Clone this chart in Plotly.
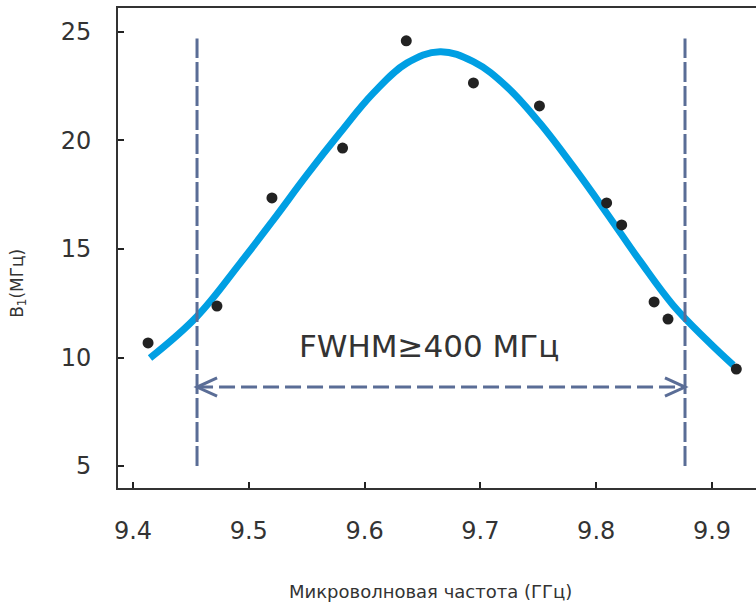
import plotly.graph_objects as go

# measured data points
freq_pts = [9.413, 9.4725, 9.520, 9.581, 9.636, 9.694, 9.751, 9.809, 9.822, 9.850, 9.862, 9.921]
b1_pts = [10.67, 12.37, 17.35, 19.65, 24.59, 22.65, 21.59, 17.12, 16.11, 12.56, 11.77, 9.47]

# fitted curve
freq_fit = [9.4147, 9.455, 9.4924, 9.5212, 9.550, 9.5788, 9.6075, 9.6364, 9.6651, 9.6939,
            9.7227, 9.7515, 9.7803, 9.8091, 9.8378, 9.8666, 9.8954, 9.9184]
b1_fit = [9.98, 11.88, 14.34, 16.34, 18.4, 20.35, 22.18, 23.56, 24.09, 23.63,
          22.48, 20.79, 18.79, 16.65, 14.45, 12.4, 10.81, 9.65]

# FWHM markers
fwhm_left = 9.4553
fwhm_right = 9.8767
marker_bottom = 5.0
marker_top = 24.7
arrow_level = 8.64
fwhm_label = "FWHM≥400 МГц"

x_ticks = [9.4, 9.5, 9.6, 9.7, 9.8, 9.9]
x_tick_text = ["9.4", "9.5", "9.6", "9.7", "9.8", "9.9"]
y_ticks = [5, 10, 15, 20, 25]

FONT = "DejaVu Sans"
DASH_COLOR = "#5a6d96"
TEXT_COLOR = "#333333"

fig = go.Figure()
fig.add_trace(go.Scatter(x=freq_fit, y=b1_fit, mode="lines",
                         line=dict(color="#009fe3", width=7, shape="spline", smoothing=1.1),
                         hoverinfo="skip"))
fig.add_trace(go.Scatter(x=freq_pts, y=b1_pts, mode="markers",
                         marker=dict(color="#222222", size=11)))

shapes = []
for xv in (fwhm_left, fwhm_right):
    shapes.append(dict(type="line", xref="x", yref="y", x0=xv, x1=xv,
                       y0=marker_bottom, y1=marker_top,
                       line=dict(color=DASH_COLOR, width=3, dash="20px,4px")))
shapes.append(dict(type="line", xref="x", yref="y", x0=fwhm_left, x1=fwhm_right,
                   y0=arrow_level, y1=arrow_level,
                   line=dict(color=DASH_COLOR, width=3, dash="16px,6px")))
# arrow heads (chevrons)
ax_len = 0.0173
ay_len = 0.42
shapes.append(dict(type="path", xref="x", yref="y",
                   path=f"M {fwhm_left + ax_len},{arrow_level + ay_len} L {fwhm_left},{arrow_level} L {fwhm_left + ax_len},{arrow_level - ay_len}",
                   line=dict(color=DASH_COLOR, width=3)))
shapes.append(dict(type="path", xref="x", yref="y",
                   path=f"M {fwhm_right - ax_len},{arrow_level + ay_len} L {fwhm_right},{arrow_level} L {fwhm_right - ax_len},{arrow_level - ay_len}",
                   line=dict(color=DASH_COLOR, width=3)))

annotations = [
    dict(x=(fwhm_left + fwhm_right) / 2 - 0.01, y=10.53, xref="x", yref="y",
         text=fwhm_label, showarrow=False,
         font=dict(family=FONT, size=31, color=TEXT_COLOR)),
    dict(x=-0.157, y=0.427, xref="paper", yref="paper", textangle=-90,
         xanchor="center", yanchor="middle",
         text="B<sub>1</sub>(МГц)", showarrow=False,
         font=dict(family=FONT, size=17, color=TEXT_COLOR)),
    dict(x=0.49, y=-0.2146, xref="paper", yref="paper",
         xanchor="center", yanchor="middle",
         text="Микроволновая частота (ГГц)", showarrow=False,
         font=dict(family=FONT, size=18, color=TEXT_COLOR)),
]

fig.update_layout(
    width=756, height=608,
    margin=dict(l=118, r=0, t=8, b=120),
    plot_bgcolor="white", paper_bgcolor="white",
    showlegend=False,
    shapes=shapes, annotations=annotations,
    font=dict(family=FONT, color=TEXT_COLOR),
)
fig.update_xaxes(range=[9.38705, 9.9380], tickvals=x_ticks, ticktext=x_tick_text,
                 showline=True, linecolor="#333333", linewidth=2, mirror=True,
                 ticks="inside", ticklen=6, tickwidth=2, tickcolor="#222222",
                 showgrid=False, zeroline=False, ticklabelstandoff=20,
                 tickfont=dict(family=FONT, size=24, color=TEXT_COLOR))
fig.update_yaxes(range=[3.99, 26.1], tickvals=y_ticks,
                 showline=True, linecolor="#333333", linewidth=2, mirror=False,
                 ticks="inside", ticklen=6, tickwidth=2, tickcolor="#222222",
                 showgrid=False, zeroline=False, ticklabelstandoff=20,
                 tickfont=dict(family=FONT, size=24, color=TEXT_COLOR))

fig.write_html("out.html")
